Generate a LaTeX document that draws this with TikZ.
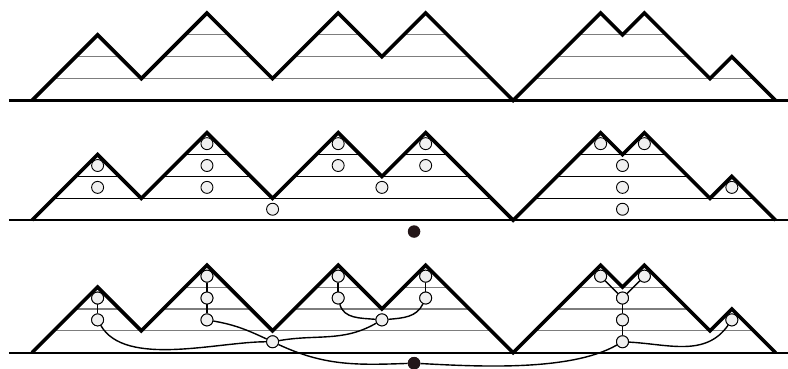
\documentclass[tikz,border=0pt]{standalone}
\definecolor{chordgray}{RGB}{125,125,125}
\definecolor{rootcol}{RGB}{35,22,24}
\tikzset{
  pathline/.style={line width=3.6pt, line join=miter, black},
  groundline/.style={line width=2.2pt, black},
  chordg/.style={line width=1.1pt, chordgray},
  chordk/.style={line width=0.9pt, black},
  vtx/.style={circle, draw=black, line width=0.9pt, fill=gray!12, inner sep=0pt, minimum size=12pt},
  rootdot/.style={circle, fill=rootcol, inner sep=0pt, minimum size=12.5pt},
  treeedge/.style={line width=1.4pt, black}
}
\newcommand\mrow[1]{%
  \draw[groundline] (-1.052,0) -- (34.7,0);
  \foreach \a/\b/\l in {1/21/1,23/33/1,2/4/2,6/10/2,12/20/2,24/30/2,7/9/3,13/15/3,17/19/3,25/29/3}
    \draw[#1] (\a,\l) -- (\b,\l);
  \draw[pathline] (0,0) -- (3,3) -- (5,1) -- (8,4) -- (11,1) -- (14,4) -- (16,2) -- (18,4) -- (22,0)
    -- (26,4) -- (27,3) -- (28,4) -- (31,1) -- (32,2) -- (34,0);
}
\newcommand\mnodes[2]{%
  \node[vtx] (#1a1) at (3,2.5) {};
  \node[vtx] (#1a2) at (3,1.5) {};
  \node[vtx] (#1b1) at (8,3.5) {};
  \node[vtx] (#1b2) at (8,2.5) {};
  \node[vtx] (#1b3) at (8,1.5) {};
  \node[vtx] (#1r) at (11,0.5) {};
  \node[vtx] (#1c1) at (14,3.5) {};
  \node[vtx] (#1c2) at (14,2.5) {};
  \node[vtx] (#1m) at (16,1.5) {};
  \node[vtx] (#1d1) at (18,3.5) {};
  \node[vtx] (#1d2) at (18,2.5) {};
  \node[vtx] (#1e1) at (26,3.5) {};
  \node[vtx] (#1e2) at (28,3.5) {};
  \node[vtx] (#1f1) at (27,2.5) {};
  \node[vtx] (#1f2) at (27,1.5) {};
  \node[vtx] (#1f3) at (27,0.5) {};
  \node[vtx] (#1g) at (32,1.5) {};
  \node[rootdot] (#1root) at (17.47,#2) {};
}
\begin{document}
\begin{tikzpicture}[x=21.87pt,y=21.87pt]
\useasboundingbox (-1.463,-0.745) rectangle (34.568,16.127);
% row 1
\begin{scope}[shift={(0,11.532)}]
  \mrow{chordg}
\end{scope}
% row 2
\begin{scope}[shift={(0,6.059)}]
  \mrow{chordk}
  \mnodes{B}{-0.52}
\end{scope}
% row 3
\begin{scope}
  \mrow{chordg}
  \mnodes{C}{-0.48}
  \begin{scope}[treeedge]
    \draw (Ca1) -- (Ca2);
    \draw (Ca2) to[out=-60,in=180,looseness=0.75] (Cr);
    \draw (Cb1) -- (Cb2) -- (Cb3);
    \draw (Cb3) to[out=-10,in=155] (Cr);
    \draw (Cc1) -- (Cc2);
    \draw (Cc2) to[out=-75,in=175] (Cm);
    \draw (Cd1) -- (Cd2);
    \draw (Cd2) to[out=-115,in=5] (Cm);
    \draw (Cm) to[out=210,in=10] (Cr);
    \draw (Cr) to[out=-25,in=182] (Croot);
    \draw (Croot) to[out=-3,in=210,looseness=0.7] (Cf3);
    \draw (Ce1) -- (Cf1);
    \draw (Ce2) -- (Cf1);
    \draw (Cf1) -- (Cf2) -- (Cf3);
    \draw (Cf3) to[out=-3,in=235] (Cg);
  \end{scope}
  % nodes again on top of the edges
  \foreach \n in {a1,a2,b1,b2,b3,r,c1,c2,m,d1,d2,e1,e2,f1,f2,f3,g}
    \node[vtx] at (C\n) {};
  \node[rootdot] at (Croot) {};
\end{scope}
\end{tikzpicture}
\end{document}
